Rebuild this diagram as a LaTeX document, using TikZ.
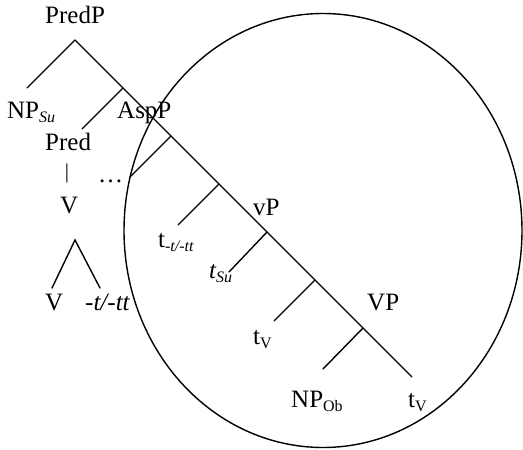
\documentclass[tikz,border=0pt]{standalone}
\usepackage{fontspec}
\setmainfont{Liberation Serif}
\newcommand\lsub[1]{\raisebox{-4pt}{\fontsize{16}{16}\selectfont #1}}
\begin{document}
\begin{tikzpicture}[x=1pt,y=-1pt,
  lbl/.style={anchor=base west,inner sep=0pt,font=\fontsize{25}{25}\selectfont},
  edge/.style={line width=1.4pt,line cap=round}]
\useasboundingbox (0,0) rectangle (523,450);
% labels
\node[lbl] (predp) at (45,23) {PredP};
\node[lbl] (npsu) at (7,118) {NP\lsub{\itshape Su}};
\node[lbl] (aspp) at (117,118) {AspP};
\node[lbl] (pred) at (45,150) {Pred};
\node[inner sep=0pt,font=\fontsize{21}{21}\selectfont] (bar) at (67,173.5) {|};
\node[lbl] (dots) at (98,182) {\dots};
\node[lbl] (vtop) at (60,213) {V};
\node[lbl] (vbot) at (45,310) {V};
\node[lbl] (aff) at (85,310) {\itshape -t/-tt};
\node[lbl] (tasp) at (158,247) {t\lsub{\itshape -t/-tt}};
\node[lbl] (tsu) at (209,278) {\itshape t\lsub{Su}};
\node[lbl] (vp) at (253,215) {vP};
\node[lbl] (bigvp) at (367,310) {VP};
\node[lbl] (tv1) at (253,344) {t\lsub{V}};
\node[lbl] (npob) at (291,407) {NP\lsub{Ob}};
\node[lbl] (tv2) at (408,407) {t\lsub{V}};
% tree points
\coordinate (s0) at (75,40);
\coordinate (s1) at (123,88);
\coordinate (s2) at (171,136);
\coordinate (s3) at (219,184);
\coordinate (s4) at (267,232);
\coordinate (s5) at (315,280);
\coordinate (s6) at (363,328);
\coordinate (s7) at (412,377);
\coordinate (l0) at (27,88);
\coordinate (l1) at (82,129);
\coordinate (l2) at (130,177);
\coordinate (l3) at (178,225);
\coordinate (l4) at (229,272);
\coordinate (l5) at (274,321);
\coordinate (l6) at (323,369);
\coordinate (m0) at (75,240);
\coordinate (m1) at (52,288);
\coordinate (m2) at (100,288);
\draw[edge] (s0) -- (s1) -- (s2) -- (s3) -- (s4) -- (s5) -- (s6) -- (s7);
\draw[edge] (s0) -- (l0);
\draw[edge] (s1) -- (l1);
\draw[edge] (s2) -- (l2);
\draw[edge] (s3) -- (l3);
\draw[edge] (s4) -- (l4);
\draw[edge] (s5) -- (l5);
\draw[edge] (s6) -- (l6);
\draw[edge] (m1) -- (m0) -- (m2);
% circle
\draw[line width=1.4pt] (323,230.5) ellipse [x radius=199, y radius=217];
\end{tikzpicture}
\end{document}
